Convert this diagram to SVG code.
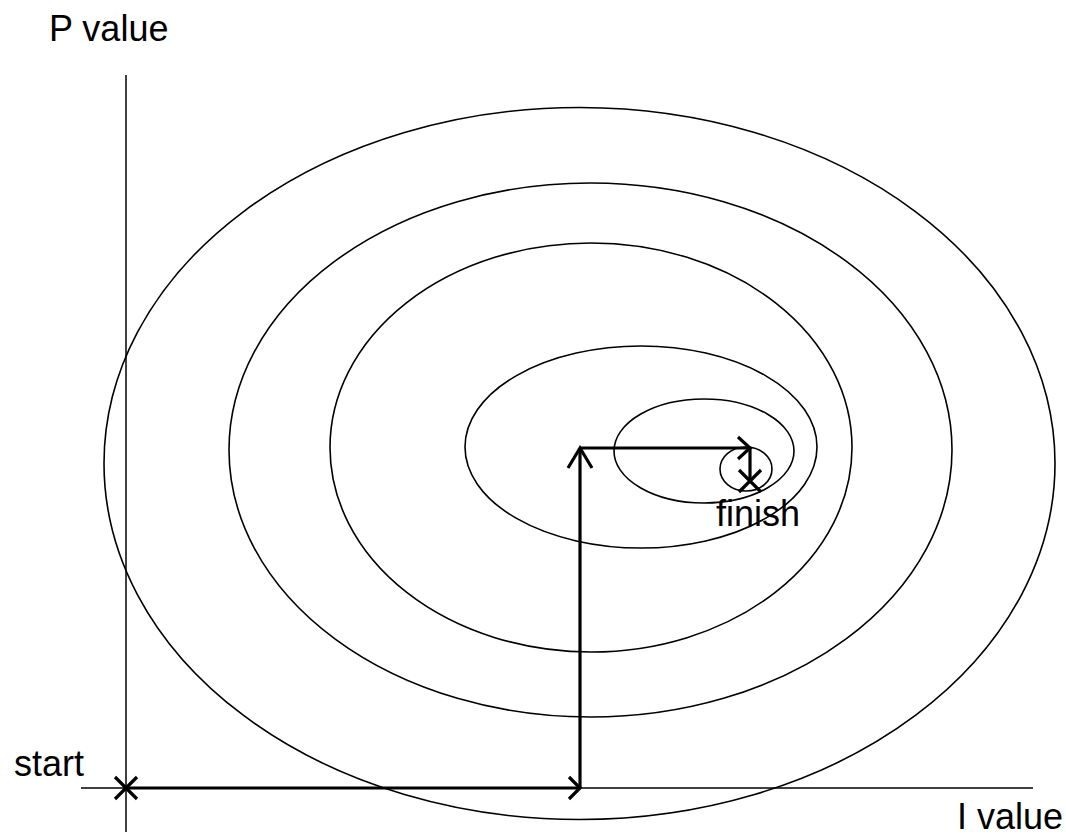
<svg xmlns="http://www.w3.org/2000/svg" width="1066" height="836" viewBox="0 0 1066 836">
<style>
.t{font-family:"Liberation Sans",Arial,sans-serif;font-size:36px;fill:#000}
.c{fill:none;stroke:#000;stroke-width:1.6}
.ax{stroke:#000;stroke-width:1.5;fill:none}
.p{stroke:#000;stroke-width:3.2;fill:none;stroke-linecap:butt}
</style>
<rect width="1066" height="836" fill="#fff"/>
<g id="axes">
<line class="ax" x1="126" y1="75" x2="126" y2="832"/>
<line class="ax" x1="81" y1="788" x2="1033" y2="788"/>
</g>
<g id="contours">
<ellipse id="c1" class="c" cx="579.5" cy="463.5" rx="475.5" ry="356"/>
<ellipse id="c2" class="c" cx="590.5" cy="450" rx="361.5" ry="267"/>
<ellipse id="c3" class="c" cx="591" cy="447.5" rx="261" ry="204.5"/>
<ellipse id="c4" class="c" cx="641" cy="447" rx="176" ry="101"/>
<ellipse id="c5" class="c" cx="704" cy="451" rx="90" ry="52"/>
<ellipse id="c6" class="c" cx="746" cy="469" rx="26" ry="22"/>
</g>
<g id="connectors">
<polyline class="p" points="126,788 580,788"/>
<polyline class="p" points="569,777 580,788 569,799"/>
<polyline class="p" points="580,788 580,448"/>
<polyline class="p" points="568,468 580,448 592,468"/>
<polyline class="p" points="580,448 750,448"/>
<polyline class="p" points="738,437 750,448 738,459"/>
<polyline class="p" points="750,448 750,481"/>
</g>
<g id="start">
<path class="p" d="M115,777 L137,799 M137,777 L115,799"/>
<text class="t" x="14" y="776">start</text>
</g>
<g id="finish">
<path class="p" d="M739,470 L761,492 M761,470 L739,492"/>
<text class="t" x="716" y="526">finish</text>
</g>
<text class="t" x="49" y="41">P value</text>
<text class="t" x="957" y="829">I value</text>
</svg>
